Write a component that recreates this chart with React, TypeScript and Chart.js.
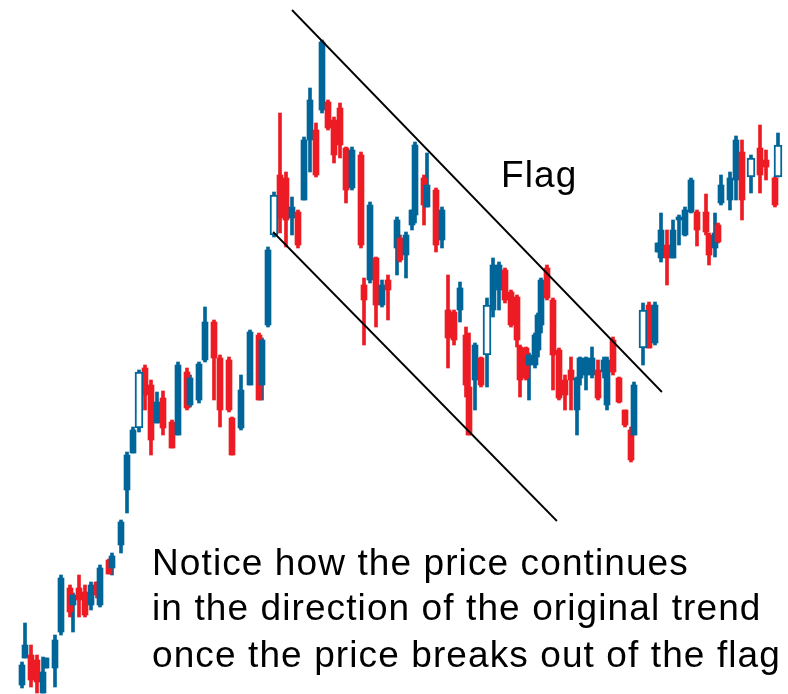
import React, { useEffect, useRef } from "react";
import { Chart, registerables } from "chart.js";

Chart.register(...registerables);

// trading day index
const days = [
  0, 1, 3, 5, 7, 8, 11, 13, 16, 17, 19, 21, 23, 25, 26, 29, 30, 33, 35, 37,
  39, 41, 43, 45, 47, 50, 52, 55, 56, 59, 61, 64, 66, 69, 70, 73, 76, 79, 80, 82,
  84, 86, 88, 90, 92, 94, 96, 98, 100, 102, 104, 106, 108, 110, 113, 114, 116, 118, 120, 122,
  125, 126, 128, 130, 131, 134, 135, 138, 140, 142, 144, 146, 148, 149, 151, 153, 155, 157, 159, 161,
  163, 165, 166, 168, 169, 171, 172, 173, 175, 177, 179, 181, 183, 185, 186, 188, 190, 192, 194, 195,
  197, 199, 201, 203, 204, 207, 209, 211, 212, 213, 215, 217, 219, 221, 223, 225, 228, 229, 231, 232,
  233, 236, 238, 240, 243, 246, 248, 251, 252,
];
const opens = [
  15, 42, 45, 40, 7, 32, 32, 68, 112, 95, 112, 108, 95, 118, 95, 140, 132, 155, 210, 247,
  272, 332, 315, 277, 302, 278, 265, 328, 295, 300, 340, 378, 342, 340, 282, 272, 315, 365, 315, 375,
  465, 525, 522, 482, 488, 500, 560, 570, 590, 598, 580, 592, 552, 512, 545, 415, 420, 442, 395, 420,
  452, 462, 445, 475, 485, 522, 493, 510, 460, 390, 388, 390, 365, 313, 320, 342, 345, 390, 410, 430,
  408, 403, 353, 352, 335, 335, 350, 375, 432, 400, 350, 320, 330, 290, 322, 325, 325, 330, 328, 295,
  360, 322, 290, 270, 265, 352, 395, 357, 448, 442, 455, 442, 480, 465, 488, 488, 488, 465, 452, 475,
  497, 500, 520, 548, 523, 552, 540, 522, 523,
];
const highs = [
  38, 77, 55, 45, 43, 42, 65, 125, 115, 107, 125, 115, 118, 118, 135, 141, 147, 180, 248, 273,
  330, 335, 320, 308, 309, 280, 338, 332, 325, 338, 393, 380, 345, 343, 283, 325, 370, 367, 362, 453,
  508, 587, 528, 503, 490, 563, 612, 577, 660, 600, 583, 597, 553, 553, 548, 422, 498, 443, 420, 425,
  483, 465, 468, 490, 558, 525, 547, 512, 493, 425, 390, 418, 373, 367, 357, 343, 402, 442, 438, 432,
  410, 405, 355, 353, 347, 367, 387, 422, 435, 402, 352, 325, 343, 323, 343, 343, 353, 340, 343, 343,
  363, 323, 290, 273, 318, 397, 398, 398, 457, 487, 470, 480, 485, 493, 522, 490, 506, 467, 487, 477,
  525, 528, 564, 560, 545, 575, 550, 523, 567,
];
const lows = [
  12, 42, 13, 7, 7, 32, 13, 65, 83, 68, 83, 83, 90, 102, 93, 126, 125, 147, 187, 247,
  268, 290, 245, 277, 265, 252, 265, 290, 293, 297, 338, 300, 273, 288, 245, 270, 315, 300, 300, 373,
  463, 467, 453, 465, 452, 500, 528, 523, 587, 570, 537, 542, 497, 510, 452, 355, 417, 373, 393, 380,
  425, 438, 422, 470, 477, 475, 493, 448, 452, 332, 355, 378, 303, 265, 290, 313, 313, 383, 390, 397,
  373, 353, 303, 320, 300, 332, 343, 367, 400, 310, 300, 290, 290, 265, 315, 310, 322, 300, 322, 290,
  325, 297, 273, 238, 265, 335, 352, 355, 448, 438, 415, 442, 455, 464, 487, 454, 465, 435, 443, 457,
  495, 490, 500, 480, 507, 507, 520, 493, 523,
];
const closes = [
  35, 55, 20, 18, 28, 42, 60, 122, 88, 105, 100, 85, 115, 105, 132, 126, 144, 178, 245, 270,
  328, 305, 260, 298, 272, 252, 335, 292, 322, 336, 378, 342, 290, 290, 245, 310, 368, 300, 360, 450,
  505, 482, 480, 493, 455, 560, 600, 525, 658, 572, 545, 555, 510, 550, 455, 400, 495, 395, 415, 410,
  480, 440, 465, 490, 555, 495, 515, 455, 490, 362, 360, 412, 315, 265, 355, 315, 395, 435, 435, 400,
  375, 360, 320, 322, 345, 365, 385, 420, 402, 345, 302, 305, 320, 322, 342, 342, 342, 302, 340, 340,
  328, 298, 275, 240, 315, 390, 352, 395, 457, 470, 442, 470, 483, 490, 520, 470, 468, 445, 467, 458,
  515, 522, 560, 500, 542, 525, 533, 495, 555,
];
// days drawn as hollow (outlined) candles
const hollowDays = [39, 84, 155, 207, 243, 252];

// flag boundary lines (day, price)
const flagTopDays = [90, 213.3];
const flagTopPrices = [690, 308];
const flagBottomDays = [83.7, 178.3];
const flagBottomPrices = [468, 179];

const flagLabel = "Flag";
const noteLines = [
  "Notice how the price continues",
  "in the direction of the original trend",
  "once the price breaks out of the flag",
];

const BLUE = "#006699";
const RED = "#ED1C24";

export default function App() {
  const ref = useRef<HTMLCanvasElement | null>(null);

  useEffect(() => {
    if (!ref.current) return;
    const colors = days.map((_, i) => (closes[i] >= opens[i] ? BLUE : RED));
    const isHollow = days.map((d) => hollowDays.includes(d));
    const wickData = days.map((d, i) => ({ x: d, y: [lows[i], highs[i]] }));
    const bodyIdx = days.map((_, i) => i).filter((i) => !isHollow[i]);
    const hollowIdx = days.map((_, i) => i).filter((i) => isHollow[i]);
    const bodyData = bodyIdx.map((i) => ({ x: days[i], y: [opens[i], closes[i]] }));
    const hollowData = hollowIdx.map((i) => ({ x: days[i], y: [opens[i], closes[i]] }));

    const chart = new Chart(ref.current, {
      type: "bar",
      data: {
        datasets: [
          {
            type: "line",
            data: flagTopDays.map((d, i) => ({ x: d, y: flagTopPrices[i] })),
            borderColor: "#000000",
            borderWidth: 1.8,
            pointRadius: 0,
            order: 0,
          } as any,
          {
            type: "line",
            data: flagBottomDays.map((d, i) => ({ x: d, y: flagBottomPrices[i] })),
            borderColor: "#000000",
            borderWidth: 1.8,
            pointRadius: 0,
            order: 0,
          } as any,
          {
            data: hollowData as any,
            backgroundColor: "#ffffff",
            borderColor: BLUE,
            borderWidth: 2,
            borderSkipped: false,
            barThickness: 8,
            grouped: false,
            order: 1,
          } as any,
          {
            data: bodyData as any,
            backgroundColor: bodyIdx.map((i) => colors[i]),
            borderWidth: 0,
            barThickness: 6,
            grouped: false,
            order: 2,
          } as any,
          {
            data: wickData as any,
            backgroundColor: colors,
            borderWidth: 0,
            barThickness: 3,
            grouped: false,
            order: 3,
          } as any,
        ],
      },
      options: {
        animation: false,
        responsive: false,
        devicePixelRatio: 1,
        layout: { padding: 0 },
        plugins: { legend: { display: false }, tooltip: { enabled: false } },
        scales: {
          x: { type: "linear", display: false, min: -7.333, max: 255.333, offset: false },
          y: { type: "linear", display: false, min: 6, max: 700, beginAtZero: false },
        },
      },
    });
    return () => chart.destroy();
  }, []);

  const textStyle: React.CSSProperties = {
    position: "absolute",
    left: 152,
    fontFamily: "'Liberation Sans', Arial, sans-serif",
    fontSize: 37,
    lineHeight: "37px",
    letterSpacing: 1.1,
    color: "#000",
    whiteSpace: "nowrap",
    margin: 0,
  };

  return (
    <div style={{ position: "absolute", left: 0, top: 0, width: 788, height: 694, background: "#fff" }}>
      <canvas ref={ref} width={788} height={694} style={{ display: "block", width: 788, height: 694 }} />
      <div style={{ ...textStyle, left: 501, top: 156 }}>{flagLabel}</div>
      {noteLines.map((t, i) => (
        <div key={i} style={{ ...textStyle, top: [544, 589, 636][i] }}>
          {t}
        </div>
      ))}
    </div>
  );
}
